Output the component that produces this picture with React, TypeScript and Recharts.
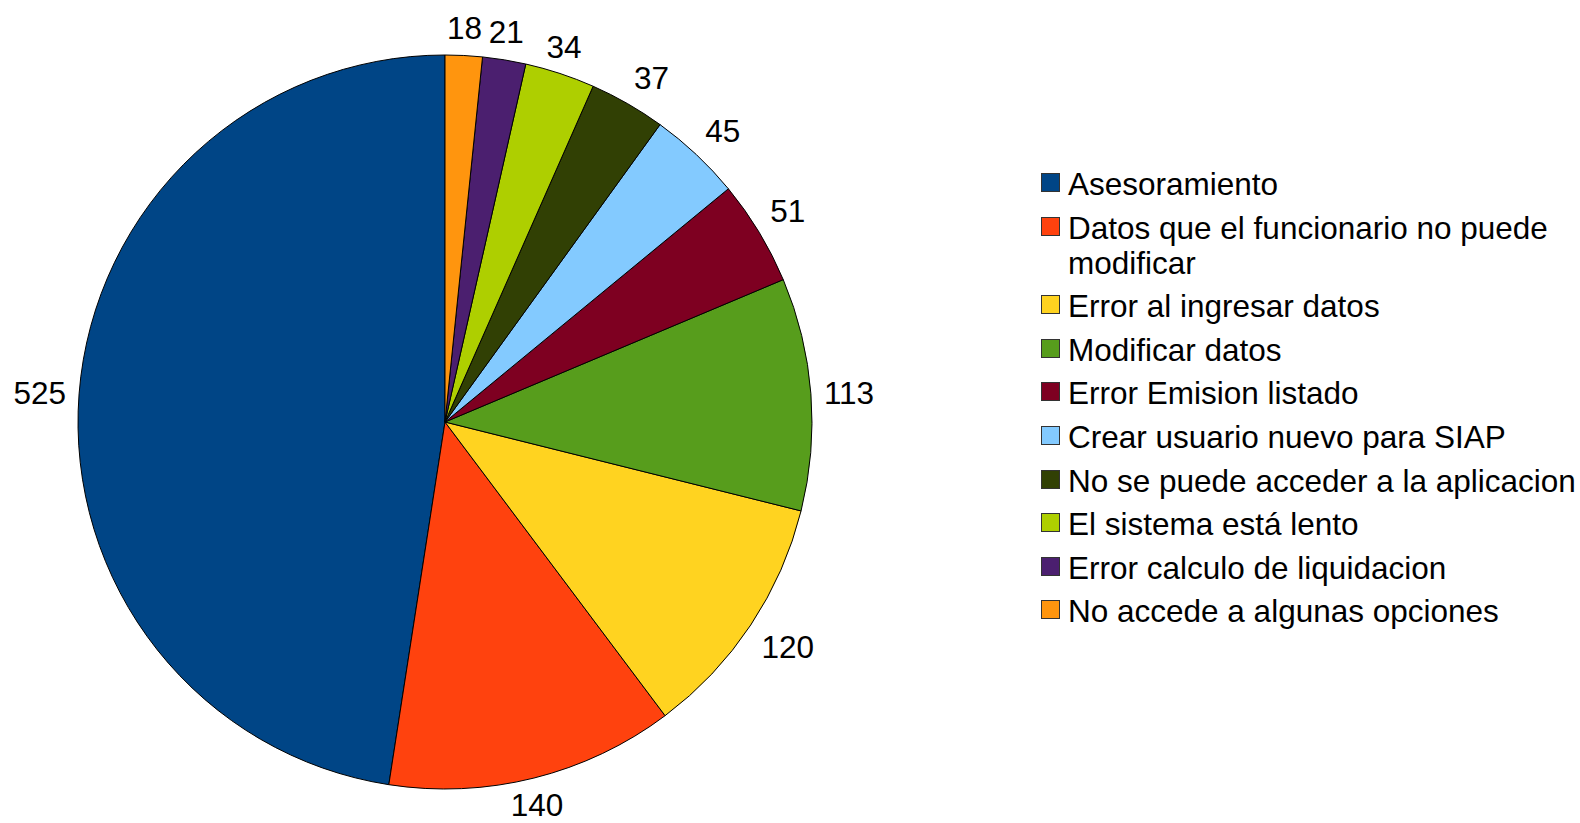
import { PieChart, Pie, Cell, Legend } from 'recharts'

const categories = [
  'Asesoramiento',
  'Datos que el funcionario no puede modificar',
  'Error al ingresar datos',
  'Modificar datos',
  'Error Emision listado',
  'Crear usuario nuevo para SIAP',
  'No se puede acceder a la aplicacion',
  'El sistema está lento',
  'Error calculo de liquidacion',
  'No accede a algunas opciones',
]
const counts = [525, 140, 120, 113, 51, 45, 37, 34, 21, 18]
const COLORS = ['#004586', '#ff420e', '#ffd320', '#579d1c', '#7e0021', '#83caff', '#314004', '#aecf00', '#4b1f6f', '#ff950e']

const FONT = '"Liberation Sans", Arial, sans-serif'
const data = categories.map((name, i) => ({ name, value: counts[i] }))

function renderLabel(props: any) {
  const { cx, cy, midAngle, outerRadius, value } = props
  const rad = (midAngle * Math.PI) / 180
  const cos = Math.cos(rad)
  const sin = Math.sin(rad)
  const R = outerRadius + 13
  const px = cx + R * cos
  const py = cy - R * sin
  const anchor = cos > 0.35 ? 'start' : cos < -0.35 ? 'end' : 'middle'
  const half = 14.5
  let centerY = py
  if (sin > 0.35) centerY = py - half
  else if (sin < -0.35) centerY = py + half
  return (
    <text x={px} y={centerY + 11} textAnchor={anchor} fill="#000" fontSize={31.5} fontFamily={FONT}>
      {value}
    </text>
  )
}

function LegendList() {
  return (
    <div style={{ width: 535, fontFamily: FONT, fontSize: 31.5, lineHeight: '35px', color: '#000' }}>
      {categories.map((c, i) => (
        <div key={c} style={{ display: 'flex', alignItems: 'flex-start', marginBottom: 8.6 }}>
          <div
            style={{
              width: 17,
              height: 17,
              marginTop: 6,
              marginRight: 8,
              flexShrink: 0,
              background: COLORS[i],
              border: '1px solid #333',
            }}
          />
          <div style={{ width: 510 }}>{c}</div>
        </div>
      ))}
    </div>
  )
}

export default function App() {
  return (
    <div style={{ position: 'absolute', left: 0, top: 0, width: 1580, height: 823, background: '#fff' }}>
      <PieChart width={1580} height={823} margin={{ top: 0, right: 0, bottom: 0, left: 0 }}>
        <Pie
          data={data}
          dataKey="value"
          nameKey="name"
          cx={445}
          cy={422}
          outerRadius={367}
          startAngle={90}
          endAngle={450}
          stroke="#000"
          strokeWidth={1}
          label={renderLabel}
          labelLine={false}
          isAnimationActive={false}
        >
          {data.map((d, i) => (
            <Cell key={d.name} fill={COLORS[i]} />
          ))}
        </Pie>
        <Legend
          content={() => <LegendList />}
          wrapperStyle={{ position: 'absolute', left: 1041, top: 167, width: 539 }}
        />
      </PieChart>
    </div>
  )
}
